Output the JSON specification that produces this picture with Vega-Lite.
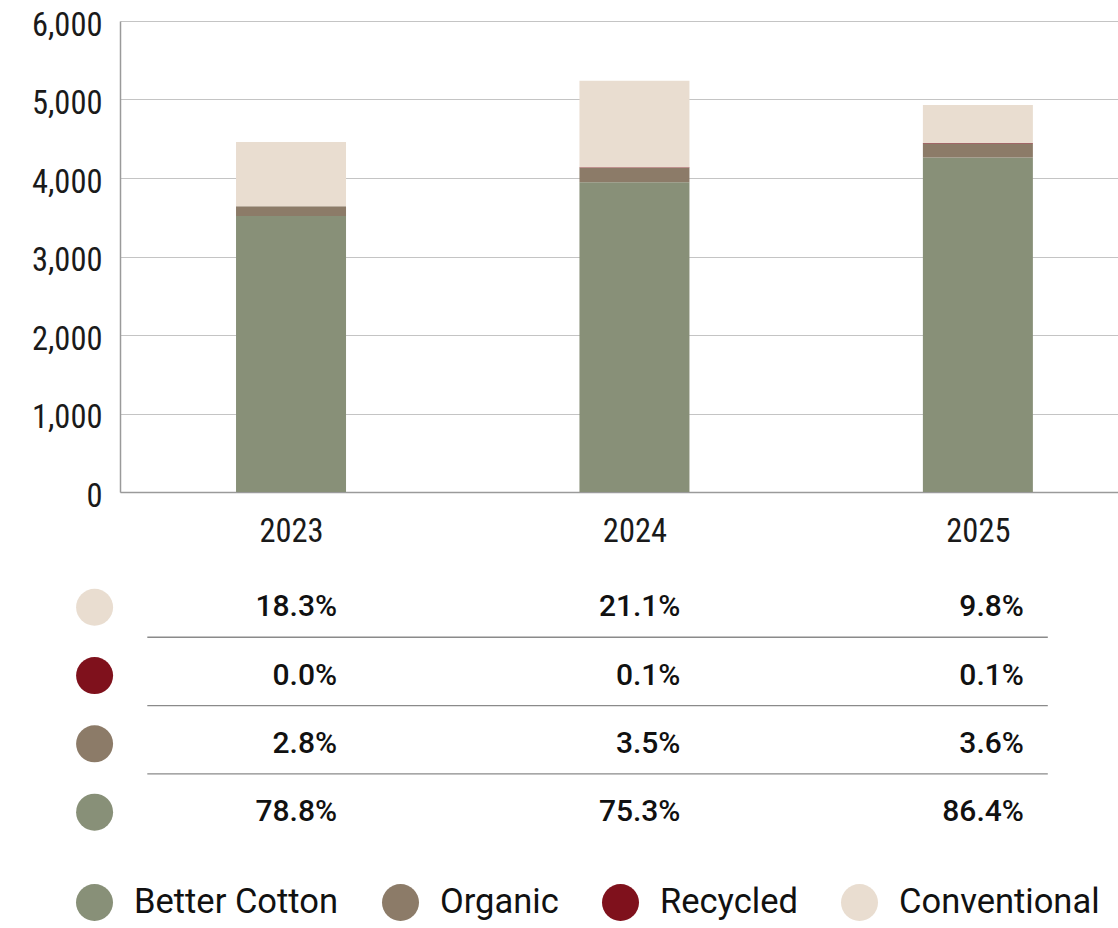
{
  "$schema": "https://vega.github.io/schema/vega-lite/v6.json",
  "width": 998,
  "height": 907,
  "autosize": {"type": "none"},
  "padding": {"left": 120, "top": 21, "right": 0, "bottom": 0},
  "background": "white",
  "config": {
    "view": {"stroke": null},
    "axis": {"ticks": false, "labelFont": "Roboto Condensed, Liberation Sans Narrow, DejaVu Sans Condensed", "labelFontSize": 32.5, "labelFontWeight": 400, "labelColor": "#1a1a1a", "title": null}
  },
  "datasets": {
    "bars": [
      {"year": 2023, "series": "Better Cotton", "rank": 1, "value": 3516},
      {"year": 2023, "series": "Organic", "rank": 2, "value": 125},
      {"year": 2023, "series": "Recycled", "rank": 3, "value": 0},
      {"year": 2023, "series": "Conventional", "rank": 4, "value": 817},
      {"year": 2024, "series": "Better Cotton", "rank": 1, "value": 3946},
      {"year": 2024, "series": "Organic", "rank": 2, "value": 183},
      {"year": 2024, "series": "Recycled", "rank": 3, "value": 7},
      {"year": 2024, "series": "Conventional", "rank": 4, "value": 1104},
      {"year": 2025, "series": "Better Cotton", "rank": 1, "value": 4262},
      {"year": 2025, "series": "Organic", "rank": 2, "value": 178},
      {"year": 2025, "series": "Recycled", "rank": 3, "value": 7},
      {"year": 2025, "series": "Conventional", "rank": 4, "value": 484}
    ],
    "table": [
      {"year": 2023, "series": "Conventional", "pct": 0.183},
      {"year": 2024, "series": "Conventional", "pct": 0.211},
      {"year": 2025, "series": "Conventional", "pct": 0.098},
      {"year": 2023, "series": "Recycled", "pct": 0.0},
      {"year": 2024, "series": "Recycled", "pct": 0.001},
      {"year": 2025, "series": "Recycled", "pct": 0.001},
      {"year": 2023, "series": "Organic", "pct": 0.028},
      {"year": 2024, "series": "Organic", "pct": 0.035},
      {"year": 2025, "series": "Organic", "pct": 0.036},
      {"year": 2023, "series": "Better Cotton", "pct": 0.788},
      {"year": 2024, "series": "Better Cotton", "pct": 0.753},
      {"year": 2025, "series": "Better Cotton", "pct": 0.864}
    ],
    "series": [
      {"series": "Conventional", "divider": true},
      {"series": "Recycled", "divider": true},
      {"series": "Organic", "divider": true},
      {"series": "Better Cotton", "divider": false}
    ]
  },
  "layer": [
    {
      "data": {"name": "bars"},
      "mark": {"type": "bar", "size": 110},
      "encoding": {
        "x": {
          "field": "year", "type": "quantitative",
          "scale": {"domain": [2022.502, 2025.408], "nice": false, "zero": false, "padding": 0},
          "axis": {"values": [2023, 2024, 2025], "format": "d", "grid": false, "offset": -436, "labelPadding": 23, "domainColor": "#9a9a9a", "domainWidth": 1.5}
        },
        "y": {
          "field": "value", "type": "quantitative", "stack": "zero",
          "scale": {"domain": [0, 6000], "range": [471, 0], "nice": false},
          "axis": {"values": [0, 1000, 2000, 3000, 4000, 5000, 6000], "format": ",d", "grid": true, "gridColor": "#c4c4c4", "gridWidth": 1, "domainColor": "#9a9a9a", "domainWidth": 1.5, "labelPadding": 18, "labelOffset": 4}
        },
        "color": {
          "field": "series", "type": "nominal",
          "scale": {"domain": ["Better Cotton", "Organic", "Recycled", "Conventional"], "range": ["#889078", "#8c7b68", "#7f111c", "#e9ddd0"]},
          "legend": {"orient": "none", "legendX": -44, "legendY": 863, "direction": "horizontal", "columns": 4, "title": null, "symbolType": "circle", "symbolSize": 1369, "symbolStrokeWidth": 0, "symbolOpacity": 1, "labelFont": "Roboto", "labelFontSize": 34.5, "labelColor": "#111", "labelOffset": 21, "columnPadding": 43, "labelLimit": 400, "padding": 0}
        },
        "order": {"field": "rank", "type": "quantitative"}
      }
    },
    {
      "layer": [
        {
          "data": {"name": "table"},
          "mark": {"type": "text", "align": "right", "baseline": "middle", "dx": 46, "font": "Roboto", "fontSize": 30, "fontWeight": 500, "color": "#111"},
          "encoding": {
            "x": {"field": "year", "type": "quantitative"},
            "y": {"field": "series", "type": "nominal", "bandPosition": 0.56,
              "scale": {"type": "band", "domain": ["Conventional", "Recycled", "Organic", "Better Cotton"], "range": [548, 821.2], "paddingInner": 0, "paddingOuter": 0},
              "axis": null},
            "text": {"field": "pct", "type": "quantitative", "format": ".1%"}
          }
        },
        {
          "data": {"name": "series"},
          "mark": {"type": "point", "shape": "circle", "filled": true, "size": 1369, "opacity": 1},
          "encoding": {
            "x": {"datum": 2022.428, "type": "quantitative"},
            "y": {"field": "series", "type": "nominal", "bandPosition": 0.56, "axis": null},
            "color": {"field": "series", "type": "nominal"}
          }
        },
        {
          "data": {"name": "series"},
          "transform": [{"filter": "datum.divider"}],
          "mark": {"type": "rule", "color": "#8a8a8a", "strokeWidth": 1.4},
          "encoding": {
            "x": {"datum": 2022.5815, "type": "quantitative"},
            "x2": {"datum": 2025.2036},
            "y": {"field": "series", "type": "nominal", "bandPosition": 1, "axis": null}
          }
        }
      ]
    }
  ],
  "resolve": {"scale": {"y": "independent"}, "axis": {"y": "independent"}}
}
